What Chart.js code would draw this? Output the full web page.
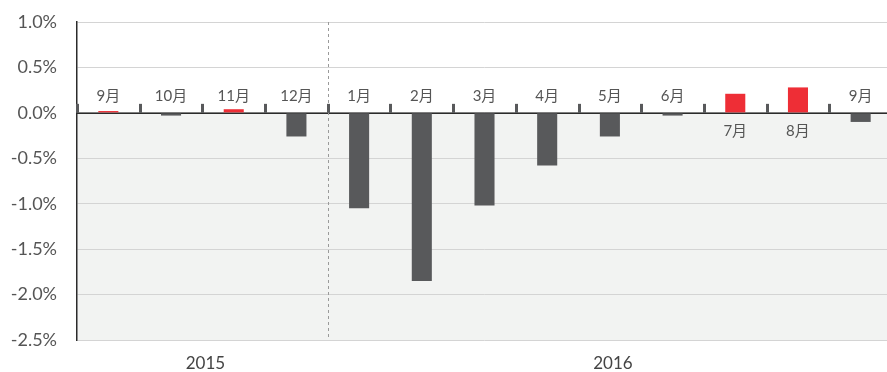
<!DOCTYPE html>
<html>
<head>
<meta charset="utf-8">
<script src="https://cdn.jsdelivr.net/npm/chart.js@4/dist/chart.umd.min.js"></script>
<style>
  html, body { margin: 0; padding: 0; background: #fff; overflow: hidden; }
  #wrap { width: 892px; height: 372px; }
</style>
</head>
<body>
<div id="wrap"><canvas id="chart"></canvas></div>
<script>
// month labels, year groups and monthly change (%)
const months = ['9月', '10月', '11月', '12月', '1月', '2月', '3月', '4月', '5月', '6月', '7月', '8月', '9月'];
const years = ['2015', '2016'];
const yearSizes = [4, 9];
const values = [0.02, -0.03, 0.04, -0.26, -1.05, -1.85, -1.02, -0.58, -0.26, -0.03, 0.21, 0.28, -0.10];
const yTicks = [1.0, 0.5, 0.0, -0.5, -1.0, -1.5, -2.0, -2.5];

const RED = '#ee2e36';
const GREY = '#58595b';
const LABEL_FONT = 'Lato, "Noto Sans CJK JP", "Noto Sans", sans-serif';

// light band below zero, white above; zero line under the bars
const bgPlugin = {
  id: 'bg',
  beforeDraw(chart) {
    const { ctx, chartArea: a, scales: { y } } = chart;
    const zero = y.getPixelForValue(0);
    ctx.save();
    ctx.fillStyle = '#f2f3f2';
    ctx.fillRect(a.left, zero, a.right - a.left, a.bottom - zero);
    ctx.restore();
  },
  beforeDatasetsDraw(chart) {
    const { ctx, chartArea: a, scales: { y } } = chart;
    const zero = y.getPixelForValue(0);
    ctx.save();
    ctx.strokeStyle = '#2b2b2b';
    ctx.lineWidth = 1.5;
    ctx.beginPath();
    ctx.moveTo(a.left, zero + 0.5);
    ctx.lineTo(a.right, zero + 0.5);
    ctx.stroke();
    ctx.restore();
  }
};

// boundary ticks, year divider, month + year labels
const decoPlugin = {
  id: 'deco',
  afterDatasetsDraw(chart) {
    const { ctx, chartArea: a, scales: { x, y } } = chart;
    const zero = y.getPixelForValue(0);
    const half = (x.getPixelForValue(1) - x.getPixelForValue(0)) / 2;
    ctx.save();

    // year divider
    const divX = Math.round(x.getPixelForValue(yearSizes[0]) - half) + 0.5;
    ctx.strokeStyle = '#9a9a9a';
    ctx.lineWidth = 1;
    ctx.setLineDash([3, 3]);
    ctx.beginPath();
    ctx.moveTo(divX, a.top);
    ctx.lineTo(divX, a.bottom);
    ctx.stroke();
    ctx.setLineDash([]);

    // boundary ticks
    ctx.fillStyle = GREY;
    for (let i = 0; i < months.length; i++) {
      const bx = x.getPixelForValue(i) - half;
      ctx.fillRect(Math.round(bx) - 1, zero - 9, 3, 9);
    }

    // month labels
    ctx.font = '15px ' + LABEL_FONT;
    ctx.fillStyle = '#555';
    ctx.textAlign = 'center';
    ctx.textBaseline = 'middle';
    months.forEach((m, i) => {
      const px = x.getPixelForValue(i);
      const ly = values[i] > 0.1 ? zero + 18 : zero - 17;
      ctx.fillText(m, px, ly);
    });

    // year labels
    ctx.font = '17px Lato, "Noto Sans", sans-serif';
    ctx.fillStyle = '#444';
    let start = 0;
    years.forEach((yr, k) => {
      const first = x.getPixelForValue(start) - half;
      const last = x.getPixelForValue(start + yearSizes[k] - 1) + half;
      ctx.fillText(yr, (first + last) / 2 + 3, a.bottom + 24);
      start += yearSizes[k];
    });
    ctx.restore();
  }
};

new Chart(document.getElementById('chart'), {
  type: 'bar',
  data: {
    labels: months,
    datasets: [{
      data: values,
      backgroundColor: values.map(v => v > 0 ? RED : GREY),
      barPercentage: 0.32,
      categoryPercentage: 1
    }]
  },
  options: {
    responsive: true,
    maintainAspectRatio: false,
    animation: false,
    layout: { padding: { top: 22, bottom: 32, left: 0, right: 0 } },
    plugins: { legend: { display: false }, tooltip: { enabled: false } },
    scales: {
      x: {
        display: false
      },
      y: {
        min: yTicks[yTicks.length - 1],
        max: yTicks[0],
        afterFit(scale) {
          scale.width = 77;
          scale.paddingTop = 0;
          scale.paddingBottom = 0;
        },
        afterBuildTicks(scale) { scale.ticks = yTicks.map(v => ({ value: v })); },
        ticks: {
          padding: 20,
          color: '#555',
          font: { family: 'Lato, "Noto Sans", sans-serif', size: 18 },
          callback: v => v.toFixed(1) + '%'
        },
        grid: { color: '#d4d4d4', drawTicks: false },
        border: { display: true, color: '#2b2b2b', width: 1.5 }
      }
    }
  },
  plugins: [bgPlugin, decoPlugin]
});
</script>
</body>
</html>
